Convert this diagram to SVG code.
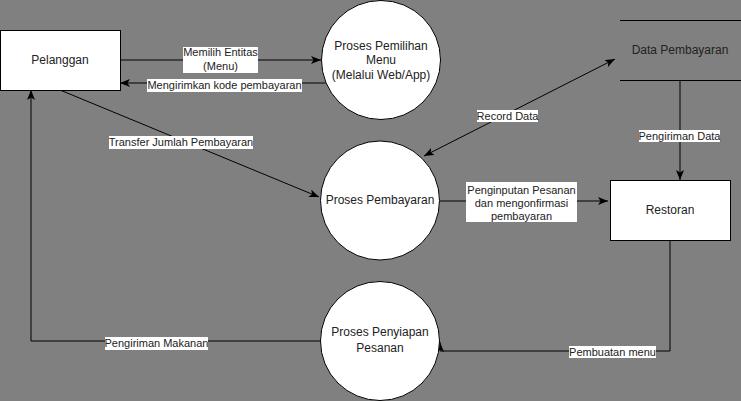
<svg xmlns="http://www.w3.org/2000/svg" width="741" height="401" viewBox="0 0 741 401">
<style>
.node{fill:#fff;stroke:#000;stroke-width:1}
.nt{font-family:"Liberation Sans",Arial,sans-serif;font-size:12px;fill:#222;text-anchor:middle}
.edge{fill:none;stroke:#000;stroke-width:1}
.lb{fill:#fff}
.lt{font-family:"Liberation Sans",Arial,sans-serif;font-size:11px;fill:#222;text-anchor:middle}
</style>
<defs>
<marker id="ah" viewBox="0 0 10 8" refX="10" refY="4" markerWidth="10" markerHeight="8" markerUnits="userSpaceOnUse" orient="auto-start-reverse">
<path d="M0,0 L10,4 L0,8 L2.5,4 Z" fill="#000"/>
</marker>
</defs>
<rect width="741" height="401" fill="#808080"/>
<g id="connectors">
<path class="edge" d="M120,60 H321" marker-end="url(#ah)"/>
<path class="edge" d="M325.6,83 H120" marker-end="url(#ah)"/>
<path class="edge" d="M60,90 L319,197" marker-end="url(#ah)"/>
<path class="edge" d="M424,156 L615,59" marker-start="url(#ah)" marker-end="url(#ah)"/>
<path class="edge" d="M680,80 V180" marker-end="url(#ah)"/>
<path class="edge" d="M440,201 H608" marker-end="url(#ah)"/>
<path class="edge" d="M670,240 V351 H440 V342" marker-end="url(#ah)"/>
<path class="edge" d="M320,341 H31 V90" marker-end="url(#ah)"/>
<rect class="lb" x="183" y="47" width="75" height="26"/>
<text class="lt" x="220.5" y="56">Memilih Entitas</text>
<text class="lt" x="220.5" y="70">(Menu)</text>
<rect class="lb" x="147" y="79" width="155" height="13"/>
<text class="lt" x="224.5" y="89">Mengirimkan kode pembayaran</text>
<rect class="lb" x="109" y="136" width="144" height="13"/>
<text class="lt" x="181" y="146">Transfer Jumlah Pembayaran</text>
<rect class="lb" x="477" y="110" width="61" height="12"/>
<text class="lt" x="507.5" y="119.5">Record Data</text>
<rect class="lb" x="639" y="130" width="81" height="12"/>
<text class="lt" x="679.5" y="139.5">Pengiriman Data</text>
<rect class="lb" x="466" y="182" width="111" height="40"/>
<text class="lt" x="521.5" y="194">Penginputan Pesanan</text>
<text class="lt" x="521.5" y="207">dan mengonfirmasi</text>
<text class="lt" x="521.5" y="219.5">pembayaran</text>
<rect class="lb" x="569" y="346" width="87" height="12"/>
<text class="lt" x="612.5" y="356">Pembuatan menu</text>
<rect class="lb" x="105" y="337" width="103" height="13"/>
<text class="lt" x="156.5" y="347">Pengiriman Makanan</text>
</g>
<g id="pelanggan">
<rect class="node" x="0.5" y="30.5" width="120" height="60"/>
<text class="nt" x="60" y="64">Pelanggan</text>
</g>
<g id="proses-pemilihan">
<circle class="node" cx="381" cy="60" r="59.5"/>
<text class="nt" x="381" y="50">Proses Pemilihan</text>
<text class="nt" x="381" y="64">Menu</text>
<text class="nt" x="381" y="79">(Melalui Web/App)</text>
</g>
<g id="proses-pembayaran">
<circle class="node" cx="380" cy="200.5" r="59.5"/>
<text class="nt" x="380" y="204">Proses Pembayaran</text>
</g>
<g id="proses-penyiapan">
<circle class="node" cx="380" cy="341" r="59.5"/>
<text class="nt" x="380" y="336">Proses Penyiapan</text>
<text class="nt" x="380" y="352">Pesanan</text>
</g>
<g id="data-pembayaran">
<path d="M620,20.5 H741 M620,80.5 H741" stroke="#000" stroke-width="1" fill="none"/>
<text class="nt" x="680" y="54">Data Pembayaran</text>
</g>
<g id="restoran">
<rect class="node" x="610.5" y="180.5" width="120" height="60"/>
<text class="nt" x="670" y="214">Restoran</text>
</g>
</svg>
